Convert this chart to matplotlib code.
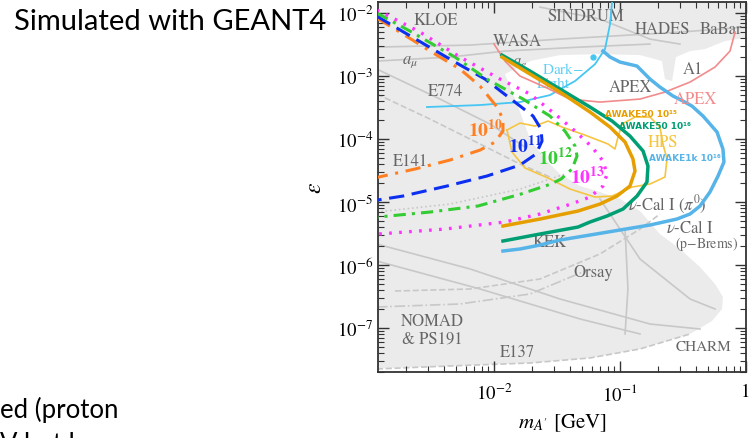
import numpy as np
import matplotlib
matplotlib.use('Agg')
import matplotlib.pyplot as plt

plt.rcParams['font.family'] = 'STIXGeneral'
plt.rcParams['mathtext.fontset'] = 'stix'

# --- data as log10(m_A' / GeV) and log10(epsilon) ---

# simulated sensitivity contours for different numbers of protons on target
pot10_logm = [-2.93, -2.786, -2.468, -2.270, -2.111, -1.976, -1.929, -1.929, -1.992, -2.111, -2.349, -2.627, -2.93]
pot10_logeps = [-2.08, -2.254, -2.651, -2.889, -3.159, -3.492, -3.683, -3.873, -4.048, -4.175, -4.333, -4.476, -4.61]

pot11_logm = [-2.93, -2.730, -2.310, -2.071, -1.897, -1.690, -1.627, -1.619, -1.667, -1.794, -2.056, -2.373, -2.722, -2.93]
pot11_logeps = [-2.05, -2.286, -2.778, -3.048, -3.317, -3.635, -3.841, -4.032, -4.238, -4.413, -4.587, -4.746, -4.905, -4.97]

pot12_logm = [-2.93, -2.667, -2.310, -2.056, -1.770, -1.556, -1.437, -1.357, -1.341, -1.381, -1.468, -1.548, -1.786, -2.127, -2.508, -2.93]
pot12_logeps = [-2.00, -2.286, -2.698, -3.048, -3.365, -3.635, -3.873, -4.111, -4.270, -4.476, -4.635, -4.714, -4.873, -5.063, -5.159, -5.24]

pot13_logm = [-2.93, -2.587, -2.270, -1.952, -1.714, -1.516, -1.357, -1.222, -1.135, -1.103, -1.135, -1.238, -1.389, -1.635, -1.913, -2.389, -2.93]
pot13_logeps = [-1.95, -2.302, -2.698, -3.048, -3.286, -3.603, -3.873, -4.127, -4.349, -4.556, -4.746, -4.921, -5.032, -5.190, -5.317, -5.429, -5.51]

# AWAKE projections
awake50_15_logm = [-1.937, -1.714, -1.476, -1.238, -1.079, -0.960, -0.897, -0.881, -0.921, -1.024, -1.159, -1.333, -1.635, -1.929]
awake50_15_logeps = [-2.698, -2.968, -3.254, -3.571, -3.810, -4.048, -4.317, -4.508, -4.746, -4.905, -5.032, -5.143, -5.270, -5.381]

awake50_16_logm = [-1.937, -1.714, -1.476, -1.238, -1.063, -0.921, -0.817, -0.778, -0.786, -0.865, -0.976, -1.103, -1.238, -1.333, -1.635, -1.929]
awake50_16_logeps = [-2.667, -2.921, -3.206, -3.492, -3.714, -3.952, -4.190, -4.429, -4.683, -4.905, -5.111, -5.222, -5.317, -5.397, -5.508, -5.619]

awake1k_16_logm = [-1.135, -1.079, -1.0, -0.865, -0.762, -0.683, -0.579, -0.500, -0.429, -0.341, -0.230, -0.183, -0.175,
                   -0.222, -0.286, -0.365, -0.444, -0.548, -0.762, -1.0, -1.238, -1.476, -1.635, -1.794, -1.929]
awake1k_16_logeps = [-2.603, -2.698, -2.778, -2.841, -3.048, -3.175, -3.317, -3.397, -3.476, -3.635, -3.889, -4.159, -4.365,
                     -4.587, -4.841, -5.063, -5.190, -5.270, -5.365, -5.444, -5.524, -5.603, -5.683, -5.746, -5.778]

# other experiments
darklight_logm = [-2.532, -2.111, -1.794, -1.556, -1.357, -1.198, -1.119, -1.079, -1.063]
darklight_logeps = [-3.492, -3.460, -3.413, -3.302, -3.079, -2.810, -2.571, -2.175, -1.825]

apex_logm = [-2.0, -1.913, -1.794, -1.595, -1.397, -1.159, -0.841, -0.643, -0.444, -0.246, -0.127, -0.087]
apex_logeps = [-2.492, -2.762, -3.0, -3.175, -3.365, -3.413, -3.365, -3.254, -3.095, -2.857, -2.603, -2.302]

hps_logm = [-1.897, -1.794, -1.675, -1.571, -1.460, -1.278, -1.095, -1.040, -1.016, -0.984, -0.881, -0.762, -0.683,
            -0.659, -0.627, -0.643, -0.762, -0.905, -1.063, -1.198, -1.397, -1.571, -1.754, -1.857, -1.897]
hps_logeps = [-3.857, -3.746, -3.794, -3.714, -3.810, -3.937, -4.079, -4.159, -3.968, -3.762, -3.651, -3.651, -3.810,
              -4.079, -4.317, -4.603, -4.714, -4.762, -4.905, -4.921, -4.794, -4.619, -4.460, -4.206, -3.857]

# boundary of the still-allowed (white) region; everything else is excluded (grey)
allowed_logm = [-1.913, -1.714, -1.476, -1.159, -0.841, -0.722, -0.667, -0.643, -0.587, -0.556, -0.444, -0.325, -0.167, 0.05,
                0.05, -3.0, -3.0, -2.825, -2.349, -1.714, -1.238, -0.841, -0.444, -0.270, -0.190, -0.183, -0.246, -0.365,
                -0.524, -0.683, -0.841, -1.0, -1.159, -1.317, -1.476, -1.595, -1.714, -1.778, -1.833]
allowed_logeps = [-2.968, -2.762, -2.667, -2.651, -2.667, -2.730, -2.762, -3.048, -3.079, -2.698, -2.603, -2.571, -2.444, -2.38,
                  -8.0, -8.0, -7.651, -7.635, -7.603, -7.556, -7.476, -7.333, -7.095, -6.889, -6.698, -6.508, -6.302, -6.032,
                  -5.746, -5.508, -5.143, -4.952, -4.841, -4.746, -4.556, -4.317, -4.0, -3.651, -3.365]

# outlines of the individual excluded regions (drawn faint grey)
bg_lines = [
    ([-2.93, -2.190, -1.476, -0.524, 0.0], [-2.540, -2.508, -2.413, -2.302, -2.222], '-'),
    ([-2.93, -2.349, -1.913, -1.317, -0.762], [-2.762, -2.698, -2.603, -2.540, -2.492], '-'),
    ([-1.635, -1.159, -0.762, -0.524], [-1.905, -2.095, -2.413, -2.492], '-'),
    ([-2.93, -2.429, -2.032, -1.754], [-2.889, -3.365, -3.762, -4.127], '-'),
    ([-2.93, -2.508, -2.111, -1.794, -1.556], [-3.286, -3.683, -4.079, -4.397, -4.603], '--'),
    ([-2.93, -2.349, -1.794, -1.437], [-5.159, -5.032, -4.794, -4.556], ':'),
    ([-2.93, -2.190, -1.476, -0.762, -0.365], [-5.667, -6.063, -6.540, -6.937, -7.016], '-'),
    ([-2.93, -2.111, -1.317, -0.841], [-5.937, -6.381, -6.857, -7.095], '-'),
    ([-2.786, -2.190, -1.635, -1.159, -0.841, -0.683], [-6.413, -6.381, -6.222, -5.825, -5.429, -5.190], '--'),
    ([-2.93, -2.270, -1.714, -1.238], [-6.667, -6.619, -6.460, -6.063], '-.'),
    ([-0.960, -0.937, -0.960], [-5.429, -6.381, -7.095], '-'),
    ([-1.159, -0.841, -0.444, -0.246], [-4.952, -5.905, -6.540, -6.698], '-'),
    ([-2.93, -2.349, -1.714, -1.238, -0.841, -0.444], [-7.651, -7.603, -7.556, -7.476, -7.333, -7.095], '--'),
]


def p(logs):
    return 10 ** np.asarray(logs)


fig = plt.figure(figsize=(7.55, 4.39), dpi=100)
ax = fig.add_axes([378 / 755, 1 - 373 / 439, (746 - 378) / 755, (373 - 3) / 439])
ax.set_xscale('log')
ax.set_yscale('log')
ax.set_xlim(1.2e-3, 1.0)
ax.set_ylim(2.0e-8, 1.5e-2)
ax.set_facecolor('#ebebeb')

ax.fill(p(allowed_logm), p(allowed_logeps), color='white', lw=0, zorder=1)
for xs, ys, ls in bg_lines:
    ax.plot(p(xs), p(ys), color='#c8c8c8', lw=1.2, ls=ls, zorder=1.5)

# grey labels of existing limits
grey = '#666666'
labels = [
    ('KLOE', -2.460, -2.111, 12), ('SINDRUM', -1.270, -2.048, 12), ('HADES', -0.659, -2.254, 12),
    ('BaBar', -0.198, -2.254, 12), ('WASA', -1.817, -2.444, 12), (r'$a_\mu$', -2.667, -2.762, 12),
    (r'$a_e$', -1.794, -2.778, 12), ('APEX', -0.921, -3.175, 12), ('A1', -0.421, -2.889, 12),
    ('E774', -2.389, -3.238, 12), ('E141', -2.667, -4.349, 12), (r'$\nu$-Cal I ($\pi^0$)', -0.627, -5.032, 12),
    (r'$\nu$-Cal I', -0.444, -5.397, 12), ('(p$-$Brems)', -0.310, -5.651, 10), ('KEK', -1.556, -5.635, 12),
    ('Orsay', -1.214, -6.111, 12), ('NOMAD', -2.492, -6.889, 12), ('& PS191', -2.492, -7.175, 12),
    ('E137', -1.817, -7.381, 12), ('CHARM', -0.341, -7.286, 11),
]
for txt, lx, ly, fs in labels:
    ax.text(10 ** lx, 10 ** ly, txt, color=grey, fontsize=fs, ha='center', va='center', zorder=2)

# coloured lines
ax.plot(p(darklight_logm), p(darklight_logeps), color='#45c6f3', lw=1.3, zorder=3)
ax.plot(10 ** -1.214, 10 ** -2.698, 'o', color='#45c6f3', ms=3.5, zorder=3)
ax.text(10 ** -1.452, 10 ** -2.880, 'Dark$-$', color='#45c6f3', fontsize=11, ha='center', va='center', alpha=0.85, zorder=3)
ax.text(10 ** -1.532, 10 ** -3.120, 'Light', color='#45c6f3', fontsize=11, ha='center', va='center', alpha=0.85, zorder=3)
ax.plot(p(apex_logm), p(apex_logeps), color='#f28b8b', lw=1.2, zorder=3)
ax.text(10 ** -0.405, 10 ** -3.365, 'APEX', color='#f28b8b', fontsize=12, ha='center', va='center', zorder=4)
ax.plot(p(hps_logm), p(hps_logeps), color='#f5c542', lw=1.2, zorder=3)
ax.text(10 ** -0.659, 10 ** -4.048, 'HPS', color='#f5c542', fontsize=12, ha='center', va='center', zorder=4)

ax.plot(p(pot10_logm), p(pot10_logeps), color='#ff8022', lw=2.2, ls=(0, (5, 2.5, 1, 2.5)), zorder=3)
ax.plot(p(pot11_logm), p(pot11_logeps), color='#0d2ff0', lw=2.2, ls=(0, (5, 2.5)), zorder=3)
ax.plot(p(pot12_logm), p(pot12_logeps), color='#33cc33', lw=2.2, ls=(0, (4, 2, 1, 2)), zorder=3)
ax.plot(p(pot13_logm), p(pot13_logeps), color='#ff33ff', lw=2.4, ls=(0, (0.8, 2.2)), zorder=3)

ax.plot(p(awake1k_16_logm), p(awake1k_16_logeps), color='#56b4e9', lw=2.5, zorder=3.2)
ax.plot(p(awake50_16_logm), p(awake50_16_logeps), color='#009e73', lw=2.5, zorder=3.3)
ax.plot(p(awake50_15_logm), p(awake50_15_logeps), color='#e69f00', lw=2.5, zorder=3.4)

for txt, col, lx, ly in [(r'$\mathbf{10^{10}}$', '#ff8022', -2.071, -3.841), (r'$\mathbf{10^{11}}$', '#0d2ff0', -1.754, -4.095),
                         (r'$\mathbf{10^{12}}$', '#33cc33', -1.508, -4.286), (r'$\mathbf{10^{13}}$', '#ff33ff', -1.254, -4.587)]:
    ax.text(10 ** lx, 10 ** ly, txt, color=col, fontsize=14, ha='center', va='center', zorder=4)

for txt, col, lx, ly in [('AWAKE50 10¹⁵', '#e69f00', -0.833, -3.587), ('AWAKE50 10¹⁶', '#009e73', -0.722, -3.778),
                         ('AWAKE1k 10¹⁶', '#56b4e9', -0.484, -4.286)]:
    ax.text(10 ** lx, 10 ** ly, txt, color=col, fontsize=6.5, fontweight='bold', family='DejaVu Sans',
            ha='center', va='center', zorder=4)

# axes cosmetics
ax.tick_params(which='both', direction='in', top=True, right=True, labelsize=13.5, color='#333333')
ax.tick_params(which='major', length=8, width=1)
ax.tick_params(which='minor', length=4, width=0.8)
ax.tick_params(axis='x', which='major', pad=8)
for s in ax.spines.values():
    s.set_linewidth(1.3)
    s.set_color('#333333')
ax.set_xticks([1e-2, 1e-1, 1.0])
ax.set_xticklabels([r'$10^{-2}$', r'$10^{-1}$', '1'])
ax.set_xlabel(r"$m_{A'}$ [GeV]", fontsize=15, labelpad=5)
ax.set_ylabel(r'$\epsilon$', fontsize=17, labelpad=8)

# slide text around the figure
fig.text(14 / 755, 1 - 22 / 439, 'Simulated with GEANT4', family='Lato', fontsize=21, va='center', ha='left')
fig.text(0, 1 - 410 / 439, 'ed (proton', family='Lato', fontsize=18.5, va='center', ha='left')
fig.text(0, 1 - 432 / 439, 'V but l', family='Lato', fontsize=18.5, va='top', ha='left')

fig.savefig('out.png', dpi=100)
